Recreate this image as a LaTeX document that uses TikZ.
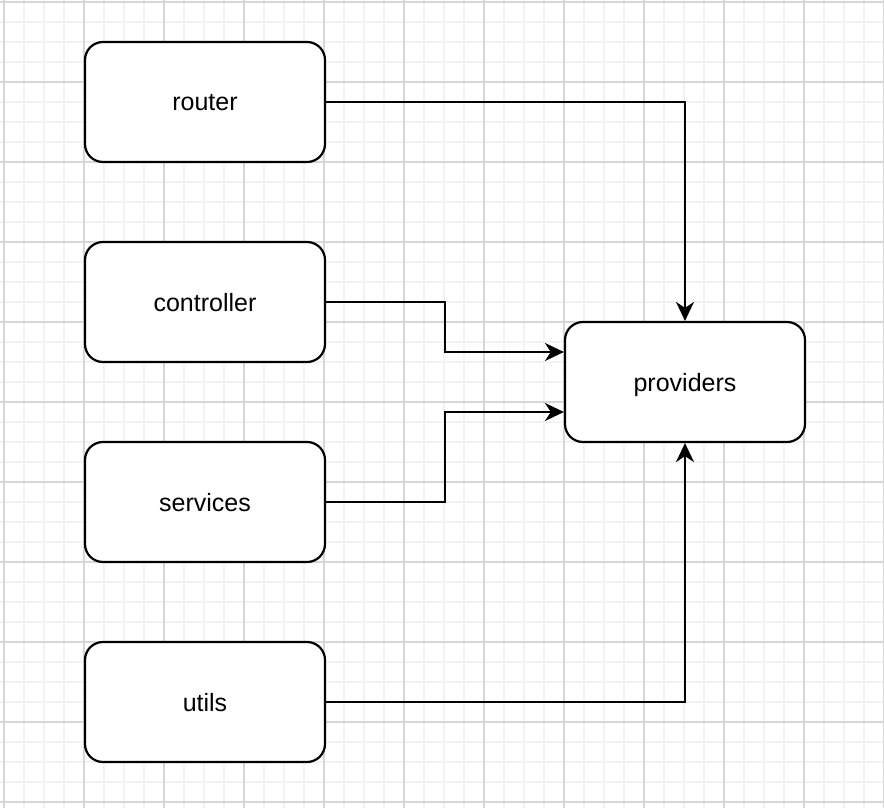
\documentclass[tikz,border=0pt]{standalone}
\usepackage{fontspec}
\setmainfont{Liberation Sans}
\usetikzlibrary{arrows.meta}

\tikzset{
    box/.style={draw=black, line width=1.1pt, fill=white, rounded corners=9pt,
        minimum width=120pt, minimum height=60pt, text depth=0pt,
        font=\fontsize{12.5}{14}\selectfont},
    link/.style={draw=black, line width=1.1pt, -{Stealth[length=9.5pt,width=9pt,inset=3pt]}},
    gridminor/.style={draw={rgb,255:red,243;green,243;blue,243}, line width=0.6pt},
    gridmajor/.style={draw={rgb,255:red,214;green,214;blue,214}, line width=0.6pt}
}

\begin{document}
\begin{tikzpicture}[x=0.5pt, y=-0.5pt]
    \useasboundingbox (0,0) rectangle (884,808);
    \fill[white] (0,0) rectangle (884,808);
    % grid
    \foreach \i in {4,24,...,884} \draw[gridminor] (\i,0) -- (\i,808);
    \foreach \j in {2,22,...,808} \draw[gridminor] (0,\j) -- (884,\j);
    \foreach \i in {4,84,...,884} \draw[gridmajor] (\i,0) -- (\i,808);
    \foreach \j in {2,82,...,808} \draw[gridmajor] (0,\j) -- (884,\j);

    \node[box] (router) at (205,102) {router};
    \node[box] (controller) at (205,302) {controller};
    \node[box] (services) at (205,502) {services};
    \node[box] (utils) at (205,702) {utils};
    \node[box] (providers) at (685,382) {providers};

    \draw[link] (router.east) -| (providers.north);
    \draw[link] (controller.east) -- ++(119,0) |- ([yshift=15pt]providers.west);
    \draw[link] (services.east) -- ++(119,0) |- ([yshift=-15pt]providers.west);
    \draw[link] (utils.east) -| (providers.south);
\end{tikzpicture}
\end{document}
